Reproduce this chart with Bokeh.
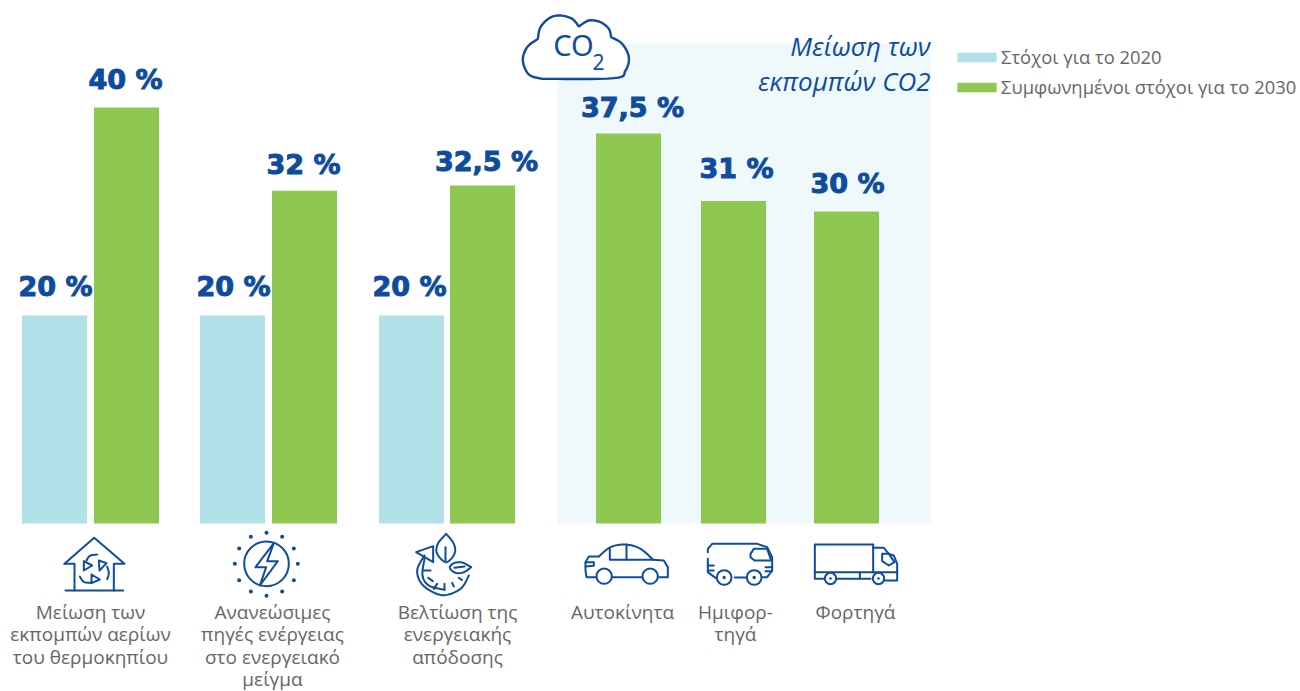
from bokeh.plotting import figure
from bokeh.models import Range1d, Legend, LegendItem
from bokeh.core.properties import value
from bokeh.embed import file_html
from bokeh.resources import INLINE

# ---------- data ----------
categories = ["Μείωση των εκπομπών αερίων του θερμοκηπίου",
              "Ανανεώσιμες πηγές ενέργειας στο ενεργειακό μείγμα",
              "Βελτίωση της ενεργειακής απόδοσης",
              "Αυτοκίνητα", "Ημιφορτηγά", "Φορτηγά"]
targets_2020 = [20, 20, 20]
targets_2030 = [40, 32, 32.5, 37.5, 31, 30]
labels_2020 = ["20 %", "20 %", "20 %"]
labels_2030 = ["40 %", "32 %", "32,5 %", "37,5 %", "31 %", "30 %"]
series_names = ["Στόχοι για το 2020", "Συμφωνημένοι στόχοι για το 2030"]
panel_title = ["Μείωση των", "εκπομπών CO2"]
category_lines = [["Μείωση των", "εκπομπών αερίων", "του θερμοκηπίου"],
                  ["Ανανεώσιμες", "πηγές ενέργειας", "στο ενεργειακό", "μείγμα"],
                  ["Βελτίωση της", "ενεργειακής", "απόδοσης"],
                  ["Αυτοκίνητα"], ["Ημιφορ-", "τηγά"], ["Φορτηγά"]]

# ---------- layout (screen pixels of the page) ----------
W, H = 1300, 691
BASE, PX_PER_PCT = 523.0, 10.4
BAR_W = 65
x_2020 = [54, 232, 411]
x_2030 = [126, 304, 482, 628, 733, 846]
lab_x_2020 = [55, 233, 409]
lab_x_2030 = [125, 303, 486, 632, 736, 847]
lab_dy_2020 = [29, 29, 29]
lab_dy_2030 = [28, 26, 24, 26, 33, 28]
cat_x = [90, 272, 457, 622, 735, 855]

BLUE, GREEN, LIGHT, PANEL, GREY = "#0F4C9E", "#8FC851", "#B2E1E9", "#EFF9FC", "#666666"
SANS, BOLD = "Open Sans", "DejaVu Sans"

p = figure(width=W, height=H, output_backend="svg", toolbar_location=None,
           x_range=Range1d(0, W),
           y_range=Range1d(-(H - BASE) / PX_PER_PCT, BASE / PX_PER_PCT),
           min_border=0, outline_line_color=None)
p.extra_y_ranges["px"] = Range1d(H, 0)
p.axis.visible = False
p.grid.visible = False

# panel
p.quad(left=[557], right=[930], top=[43], bottom=[BASE], y_range_name="px",
       fill_color=PANEL, line_color=None)

# bars
r20 = p.vbar(x=x_2020, top=targets_2020, bottom=0, width=BAR_W, fill_color=LIGHT, line_color=None)
r30 = p.vbar(x=x_2030, top=targets_2030, bottom=0, width=BAR_W, fill_color=GREEN, line_color=None)

# value labels
def value_labels(xs, vals, texts, dys):
    for x, v, t, dy in zip(xs, vals, texts, dys):
        p.text(x=[x], y=[v], text=[t], y_offset=-dy, text_align="center", text_baseline="middle",
               text_font=value(BOLD), text_font_style="bold", text_font_size="27px", text_color=BLUE,
               text_outline_color=BLUE)
value_labels(lab_x_2020, targets_2020, labels_2020, lab_dy_2020)
value_labels(lab_x_2030, targets_2030, labels_2030, lab_dy_2030)

# category labels
for cx, lines in zip(cat_x, category_lines):
    for i, t in enumerate(lines):
        p.text(x=[cx], y=[611 + i * 22.6], text=[t], y_range_name="px", text_align="center",
               text_baseline="alphabetic", text_font=value(SANS), text_font_size="19px", text_color=GREY)

# panel title
for yy, t in zip([45, 80], panel_title):
    p.text(x=[930], y=[yy], text=[t], y_range_name="px", text_align="right", text_baseline="alphabetic",
           text_font=value(SANS), text_font_style="italic", text_font_size="26px", text_color=BLUE)

# ---------- icons ----------
def smooth(pts, n=8):
    out = []
    P = [pts[0]] + list(pts) + [pts[-1]]
    for i in range(1, len(P) - 2):
        p0, p1, p2, p3 = P[i - 1], P[i], P[i + 1], P[i + 2]
        for k in range(n):
            t = k / n
            f = lambda a, b, c, d: 0.5 * (2 * b + (c - a) * t + (2 * a - 5 * b + 4 * c - d) * t * t + (3 * b - a - 3 * c + d) * t ** 3)
            out.append((f(p0[0], p1[0], p2[0], p3[0]), f(p0[1], p1[1], p2[1], p3[1])))
    out.append(pts[-1])
    return out

def icon(ox, oy, lines=(), curves=(), rings=(), dots=(), lw=2.0, fill=None):
    xs, ys = [], []
    for ln in list(lines) + [smooth(c) for c in curves]:
        xs.append([ox + a / 3 for a, b in ln])
        ys.append([oy + b / 3 for a, b in ln])
    if xs:
        if fill:
            p.patches(xs, ys, y_range_name="px", fill_color=fill, line_color=BLUE, line_width=lw)
        else:
            p.multi_line(xs, ys, y_range_name="px", line_color=BLUE, line_width=lw, line_join="round", line_cap="round")
    for cx, cy, r in rings:
        p.circle(x=[ox + cx / 3], y=[oy + cy / 3], radius=r / 3, y_range_name="px",
                 fill_color="white", line_color=BLUE, line_width=lw)
    for cx, cy, r in dots:
        p.circle(x=[ox + cx / 3], y=[oy + cy / 3], radius=r / 3, y_range_name="px",
                 fill_color=BLUE, line_color=None)

# house
icon(0, 520, lines=[
    [(192, 130), (281, 52), (372, 130), (340, 130), (340, 210)],
    [(192, 130), (222, 130), (222, 210)],
    [(195, 210), (368, 210)],
    [(250, 122), (275, 135), (250, 150), (250, 122)],
    [(295, 120), (318, 128), (297, 150), (295, 120)],
    [(273, 162), (298, 177), (273, 188), (273, 162)]],
    curves=[[(258, 120), (268, 106), (290, 102)], [(320, 138), (325, 158), (320, 176)], [(238, 168), (250, 184), (272, 187)]])
# sun and bolt
sun_dots = [(798, 37), (845, 49), (880, 84), (892, 130), (880, 179), (845, 213), (798, 226), (751, 213), (716, 179), (703, 130), (716, 84), (751, 49)]
icon(0, 520, rings=[(798, 130, 67)], dots=[(a, b, 6) for a, b in sun_dots])
icon(0, 520, lines=[[(820, 68), (765, 140), (797, 140), (778, 195), (832, 122), (800, 122), (820, 68)]])
# clock and leaves
icon(0, 520, lines=[
    [(1247, 95), (1298, 77), (1298, 125), (1247, 95)],
    [(1268, 150), (1290, 150)], [(1283, 172), (1297, 182)], [(1310, 190), (1300, 205)], [(1332, 190), (1332, 208)],
    [(1355, 187), (1360, 198)], [(1375, 172), (1384, 178)], [(1335, 80), (1335, 120)], [(1362, 142), (1392, 138)]],
    curves=[[(1272, 105), (1250, 150), (1268, 195), (1325, 224), (1380, 205), (1405, 165)],
            [(1272, 115), (1266, 165), (1285, 195), (1332, 208)],
            [(1337, 40), (1312, 70), (1310, 100), (1337, 125), (1362, 100), (1360, 70), (1337, 40)],
            [(1412, 140), (1385, 126), (1360, 128), (1348, 142), (1365, 157), (1390, 155), (1412, 140)]])
# car
icon(500, 520, lines=[
    [(287, 170), (258, 170), (255, 150), (255, 125), (265, 108), (295, 108)],
    [(335, 170), (425, 170)], [(473, 170), (502, 170), (502, 140)],
    [(328, 85), (328, 118), (458, 118), (490, 120), (502, 140)],
    [(378, 72), (378, 118)], [(255, 125), (280, 125), (280, 136), (255, 138)]],
    curves=[[(295, 108), (330, 80), (375, 72), (420, 85), (458, 118)]],
    rings=[(311, 167, 23), (449, 167, 23)])
# van
icon(500, 520, lines=[
    [(622, 95), (622, 85), (635, 70), (770, 70), (800, 80), (815, 110), (815, 150), (800, 170), (785, 170)],
    [(703, 171), (738, 171)], [(622, 115), (622, 155), (645, 172)],
    [(750, 100), (760, 85), (800, 85), (812, 120), (762, 120), (750, 110), (750, 100)],
    [(622, 135), (640, 135)], [(622, 150), (640, 150)], [(795, 140), (815, 140)], [(795, 152), (815, 152)]],
    rings=[(671, 171, 22), (761, 171, 22)], dots=[(671, 171, 5), (761, 171, 5)])
# truck
icon(500, 520, lines=[
    [(943, 72), (1118, 72), (1118, 155), (943, 155), (943, 72)],
    [(943, 155), (943, 175), (972, 175)], [(1008, 175), (1110, 175)],
    [(1118, 82), (1150, 82), (1165, 100), (1180, 105), (1190, 130), (1190, 180), (1152, 180)],
    [(1145, 100), (1165, 100), (1182, 125), (1165, 135), (1145, 122), (1145, 100)],
    [(1118, 155), (1190, 155)], [(1078, 155), (1078, 175)]],
    rings=[(990, 174, 17), (1134, 174, 17)], dots=[(990, 174, 4), (1134, 174, 4)])
# cloud
cloud = smooth([(95, 235), (55, 222), (37, 180), (50, 140), (82, 115)]) \
    + smooth([(82, 115), (90, 80), (118, 52), (150, 45), (185, 55), (205, 78)]) \
    + smooth([(205, 78), (235, 60), (270, 65), (295, 85), (302, 110)]) \
    + smooth([(302, 110), (335, 130), (355, 170), (345, 210), (310, 233), (95, 235)])
icon(510, 0, lines=[cloud], fill="white", lw=2.4)
p.text(x=[573], y=[44], text=["CO"], y_range_name="px", text_align="center", text_baseline="middle",
       text_font=value("Noto Sans"), text_font_size="29px", text_color=BLUE)
p.text(x=[598], y=[61], text=["2"], y_range_name="px", text_align="center", text_baseline="middle",
       text_font=value("Noto Sans"), text_font_size="21px", text_color=BLUE)

# legend (Bokeh draws a bar's legend glyph at 80 % of glyph_width/height)
legend = Legend(items=[LegendItem(label=series_names[0], renderers=[r20]),
                       LegendItem(label=series_names[1], renderers=[r30])],
                location=(952, H - 99), orientation="vertical", glyph_width=49, glyph_height=12,
                label_standoff=0, spacing=5, padding=0, margin=0, background_fill_alpha=0,
                border_line_color=None, label_text_font=SANS, label_text_font_size="18.4px",
                label_text_color=GREY, label_height=20)
p.add_layout(legend, "center")

open("out.html", "w").write(file_html(p, INLINE))
